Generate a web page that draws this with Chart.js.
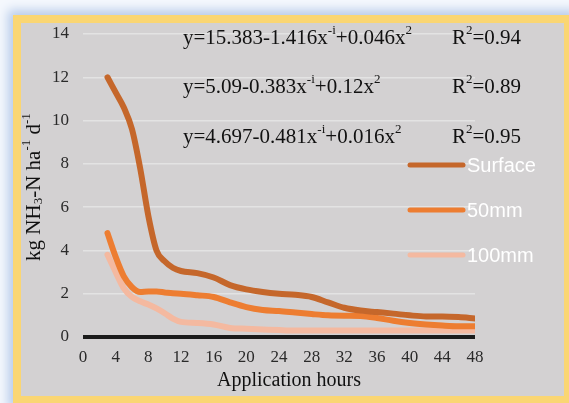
<!DOCTYPE html>
<html>
<head>
<meta charset="utf-8">
<script src="https://cdn.jsdelivr.net/npm/chart.js@4.4.1/dist/chart.umd.min.js"></script>
<style>
  html, body { margin: 0; padding: 0; }
  body {
    width: 569px; height: 403px; overflow: hidden; position: relative;
    background: #f5f8fd;
  }
  #frame {
    position: absolute; left: 13px; top: 15px;
    width: 559px; height: 389px; box-sizing: border-box;
    border: 8px solid #fad673;
    background: #d3d1d2;
    box-shadow: 0 0 10px 5px #b7cbea;
  }
  #wrap { position: absolute; left: 0; top: 0; width: 569px; height: 403px; }
</style>
</head>
<body>
<div id="frame"></div>
<div id="wrap"><canvas id="nh3Chart" width="569" height="403"></canvas></div>
<script>
// hours after application and daily NH3 loss for each placement depth
const hours = [3, 4, 5, 6, 7, 8, 9, 10, 11, 12, 14, 16, 18, 20, 22, 24, 26, 28, 30, 32, 34, 36, 38, 40, 42, 44, 46, 48];
const surface = [12.0, 11.3, 10.6, 9.6, 7.8, 5.6, 4.0, 3.5, 3.2, 3.05, 2.95, 2.75, 2.4, 2.2, 2.08, 2.0, 1.95, 1.85, 1.6, 1.35, 1.22, 1.15, 1.08, 1.0, 0.95, 0.95, 0.92, 0.86];
const mm50 = [4.8, 3.7, 2.8, 2.3, 2.08, 2.1, 2.1, 2.06, 2.02, 2.0, 1.93, 1.85, 1.6, 1.38, 1.25, 1.2, 1.13, 1.06, 1.0, 0.98, 0.97, 0.88, 0.75, 0.65, 0.58, 0.53, 0.5, 0.5];
const mm100 = [3.8, 3.0, 2.25, 1.85, 1.65, 1.5, 1.32, 1.1, 0.85, 0.7, 0.65, 0.58, 0.42, 0.38, 0.35, 0.32, 0.3, 0.3, 0.3, 0.3, 0.3, 0.3, 0.3, 0.3, 0.3, 0.3, 0.3, 0.3];
const seriesNames = ['Surface', '50mm', '100mm'];
const seriesColors = ['#c5672b', '#ed7d31', '#f4b9a0'];

// fitted equations, split into [text, isSuperscript] pieces
const equations = [
    [['y=15.383-1.416x', false], ['-i', true], ['+0.046x', false], ['2', true]],
    [['y=5.09-0.383x', false], ['-i', true], ['+0.12x', false], ['2', true]],
    [['y=4.697-0.481x', false], ['-i', true], ['+0.016x', false], ['2', true]]
];
const rSquared = ['0.94', '0.89', '0.95'];

const xTitle = 'Application hours';
// y title pieces: 0 normal, 1 subscript, 2 superscript
const yTitle = [['kg NH', 0], ['3', 1], ['-N ha', 0], ['-1', 2], [' d', 0], ['-1', 2]];

const SERIF = '"Liberation Serif", "Times New Roman", serif';

function toPoints(vals) {
    return hours.map((h, i) => ({ x: h, y: vals[i] }));
}

function drawPieces(ctx, x, y, pieces, size) {
    // pieces: [text, mode] mode 0/false normal, true/2 superscript, 1 subscript
    let cx = x;
    pieces.forEach(([t, mode]) => {
        let fs = size, dy = 0;
        if (mode === true || mode === 2) { fs = size * 0.62; dy = -size * 0.36; }
        else if (mode === 1) { fs = size * 0.62; dy = size * 0.2; }
        ctx.font = fs + 'px ' + SERIF;
        ctx.fillText(t, cx, y + dy);
        cx += ctx.measureText(t).width;
    });
    return cx;
}

function piecesWidth(ctx, pieces, size) {
    let w = 0;
    pieces.forEach(([t, mode]) => {
        const fs = (mode === 0 || mode === false) ? size : size * 0.62;
        ctx.font = fs + 'px ' + SERIF;
        w += ctx.measureText(t).width;
    });
    return w;
}

const annotations = {
    id: 'annotations',
    afterDraw(chart) {
        const ctx = chart.ctx;
        ctx.save();
        ctx.fillStyle = '#111';
        ctx.textBaseline = 'middle';
        ctx.textAlign = 'left';
        const eqY = [38, 87, 137];
        equations.forEach((eq, i) => {
            drawPieces(ctx, 183, eqY[i], eq, 21);
            drawPieces(ctx, 452, eqY[i], [['R', false], ['2', true], ['=' + rSquared[i], false]], 21);
        });

        // legend
        const legY = [165, 210, 255];
        chart.data.datasets.forEach((ds, i) => {
            ctx.strokeStyle = ds.borderColor;
            ctx.lineWidth = 5;
            ctx.lineCap = 'round';
            ctx.beginPath();
            ctx.moveTo(410, legY[i]);
            ctx.lineTo(463, legY[i]);
            ctx.stroke();
            ctx.fillStyle = '#ffffff';
            ctx.font = '20px "Liberation Sans", Arial, sans-serif';
            ctx.fillText(ds.label, 467, legY[i] + 1);
        });

        // axis titles
        ctx.fillStyle = '#111';
        ctx.font = '20px ' + SERIF;
        ctx.textAlign = 'center';
        ctx.fillText(xTitle, 289, 381);

        ctx.textAlign = 'left';
        ctx.translate(34, 187);
        ctx.rotate(-Math.PI / 2);
        const w = piecesWidth(ctx, yTitle, 21);
        drawPieces(ctx, -w / 2, 0, yTitle, 21);
        ctx.restore();
    }
};

new Chart(document.getElementById('nh3Chart'), {
    type: 'line',
    data: {
        datasets: [surface, mm50, mm100].map((vals, i) => ({
            label: seriesNames[i],
            data: toPoints(vals),
            borderColor: seriesColors[i],
            backgroundColor: seriesColors[i],
            borderWidth: 6,
            borderCapStyle: 'round',
            borderJoinStyle: 'round',
            pointRadius: 0,
            cubicInterpolationMode: 'monotone',
            fill: false
        }))
    },
    options: {
        responsive: false,
        animation: false,
        devicePixelRatio: 1,
        layout: { padding: { left: 0, top: 34, right: 94, bottom: 0 } },
        plugins: { legend: { display: false }, tooltip: { enabled: false } },
        scales: {
            x: {
                type: 'linear',
                min: 0, max: 48,
                afterFit(scale) { scale.height = 66; },
                ticks: { stepSize: 4, padding: 10, color: '#2a2a2a', font: { family: SERIF, size: 17 } },
                grid: { display: false, drawTicks: false },
                border: { display: false }
            },
            y: {
                min: 0, max: 14,
                afterFit(scale) { scale.width = 83; },
                ticks: { stepSize: 2, padding: 14, color: '#2a2a2a', font: { family: SERIF, size: 17 } },
                grid: {
                    drawTicks: false,
                    color: c => c.tick && c.tick.value === 0 ? '#1b1b1b' : '#e3e3e3',
                    lineWidth: c => c.tick && c.tick.value === 0 ? 4 : 1.5
                },
                border: { display: false }
            }
        }
    },
    plugins: [annotations]
});
</script>
</body>
</html>
